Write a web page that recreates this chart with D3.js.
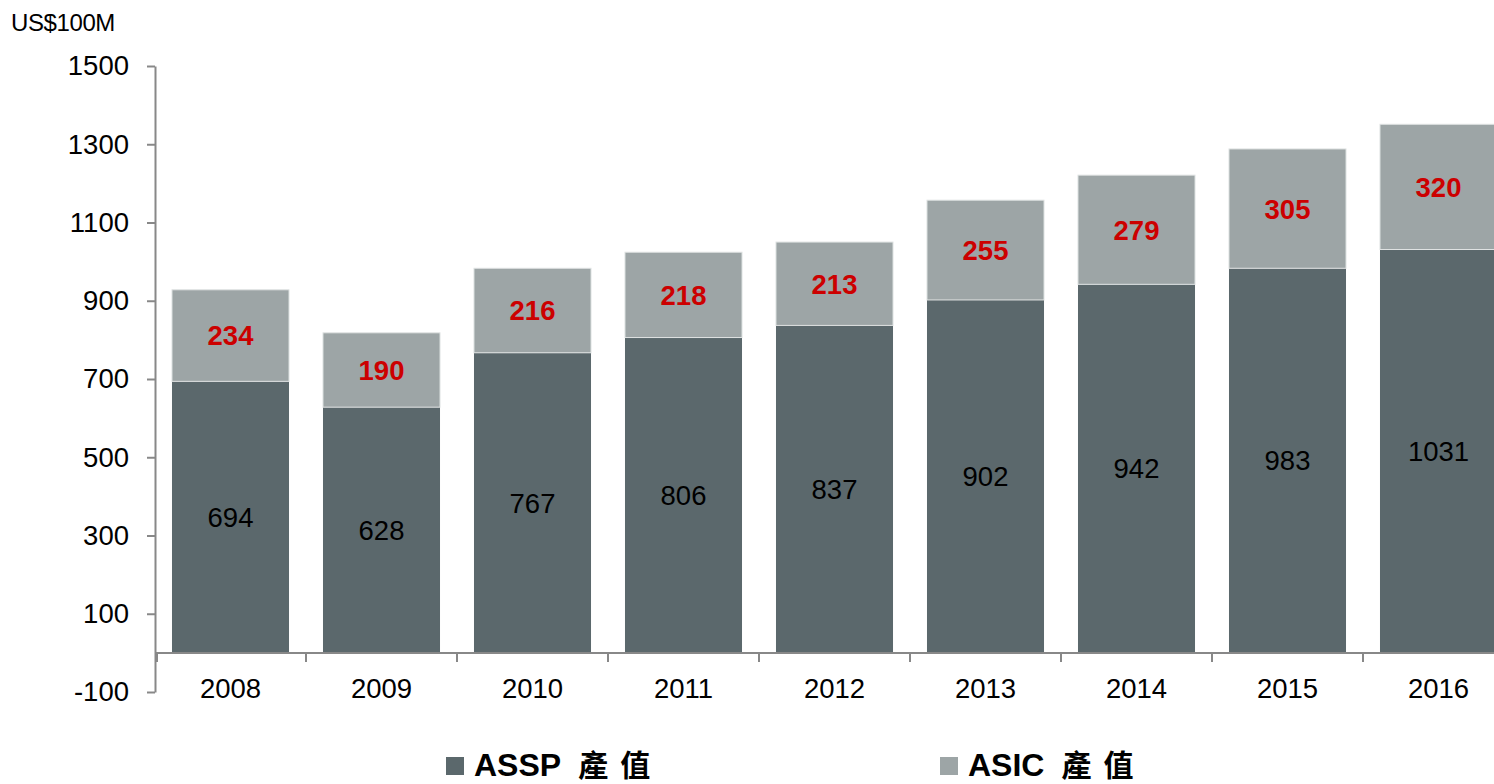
<!DOCTYPE html>
<html><head><meta charset="utf-8">
<script src="https://cdn.jsdelivr.net/npm/d3@7"></script>
<style>body{margin:0;background:#fff}svg{display:block}</style>
</head><body>
<svg id="c" width="1494" height="784"></svg>
<script>
const years = ["2008","2009","2010","2011","2012","2013","2014","2015","2016"];
const assp = [694,628,767,806,837,902,942,983,1031];
const asic = [234,190,216,218,213,255,279,305,320];
const yTicks = [-100,100,300,500,700,900,1100,1300,1500];
const seriesNames = ["ASSP 產值","ASIC 產值"];
const colors = ["#5b686c","#9da5a6"];

const svg = d3.select("#c");
const x0 = 155, bandW = 151;
const x = d3.scaleBand().domain(years).range([x0, x0 + bandW*years.length]).paddingInner(0.225).paddingOuter(0.1125);
const y = d3.scaleLinear().domain([-100,1500]).range([692,66]);
const font = "Liberation Sans, Arial, sans-serif";

// bars
const g = svg.append("g");
years.forEach((yr,i)=>{
  g.append("rect").attr("x",x(yr)).attr("width",x.bandwidth())
    .attr("y",y(assp[i])).attr("height",y(0)-y(assp[i])).attr("fill",colors[0]);
  g.append("rect").attr("x",x(yr)).attr("width",x.bandwidth())
    .attr("y",y(assp[i]+asic[i])).attr("height",y(assp[i])-y(assp[i]+asic[i])).attr("fill",colors[1])
    .attr("stroke","#dfe2e2").attr("stroke-width",1);
  g.append("text").attr("x",x(yr)+x.bandwidth()/2).attr("y",y(assp[i]/2)).attr("dy","0.36em")
    .attr("text-anchor","middle").attr("font-family",font).attr("font-size",27.5).attr("fill","#000").text(assp[i]);
  g.append("text").attr("x",x(yr)+x.bandwidth()/2).attr("y",y(assp[i]+asic[i]/2)).attr("dy","0.36em")
    .attr("text-anchor","middle").attr("font-family",font).attr("font-size",27.5).attr("font-weight","bold").attr("fill","#cc0000").text(asic[i]);
});

// y axis
const ya = svg.append("g").attr("transform",`translate(${x0},0)`)
  .call(d3.axisLeft(y).tickValues(yTicks).tickSize(8).tickPadding(18).tickSizeOuter(0).tickFormat(d => String(d)));
ya.select(".domain").attr("stroke","#888").attr("stroke-width",2);
ya.selectAll(".tick line").attr("stroke","#888").attr("stroke-width",2);
ya.selectAll(".tick text").attr("font-family",font).attr("font-size",27.5).attr("fill","#000");

// x axis (zero line)
const xa = svg.append("g").attr("transform",`translate(0,${y(0)})`);
xa.append("line").attr("x1",x0).attr("x2",1494).attr("y1",0).attr("y2",0).attr("stroke","#888").attr("stroke-width",2);
d3.range(years.length+1).forEach(k=>{
  const bx = x0 + k*bandW + (k===0?2:0);
  xa.append("line").attr("x1",bx).attr("x2",bx).attr("y1",0).attr("y2",9).attr("stroke","#888").attr("stroke-width",2);
});
years.forEach(yr=>{
  xa.append("text").attr("x",x(yr)+x.bandwidth()/2).attr("y",35).attr("dy","0.36em")
    .attr("text-anchor","middle").attr("font-family",font).attr("font-size",27.5).attr("fill","#000").text(yr);
});

// unit label
svg.append("text").attr("x",11).attr("y",31).attr("font-family",font).attr("font-size",24).attr("letter-spacing","-0.4").attr("fill","#000").text("US$100M");

// legend
const legX = [446, 940];
seriesNames.forEach((n,i)=>{
  svg.append("rect").attr("x",legX[i]).attr("y",757).attr("width",18).attr("height",18).attr("fill",colors[i]);
  const parts = n.split(" ");
  const t = svg.append("text").attr("x",legX[i]+28).attr("y",776).attr("font-family",font).attr("font-size",32).attr("font-weight","bold").attr("fill","#000");
  t.append("tspan").text(parts[0]);
  t.append("tspan").attr("dx",17).attr("font-family","Noto Sans CJK TC, Noto Sans CJK SC, sans-serif").attr("font-size",30).attr("letter-spacing","12").text(parts[1]);
});
</script>
</body></html>
